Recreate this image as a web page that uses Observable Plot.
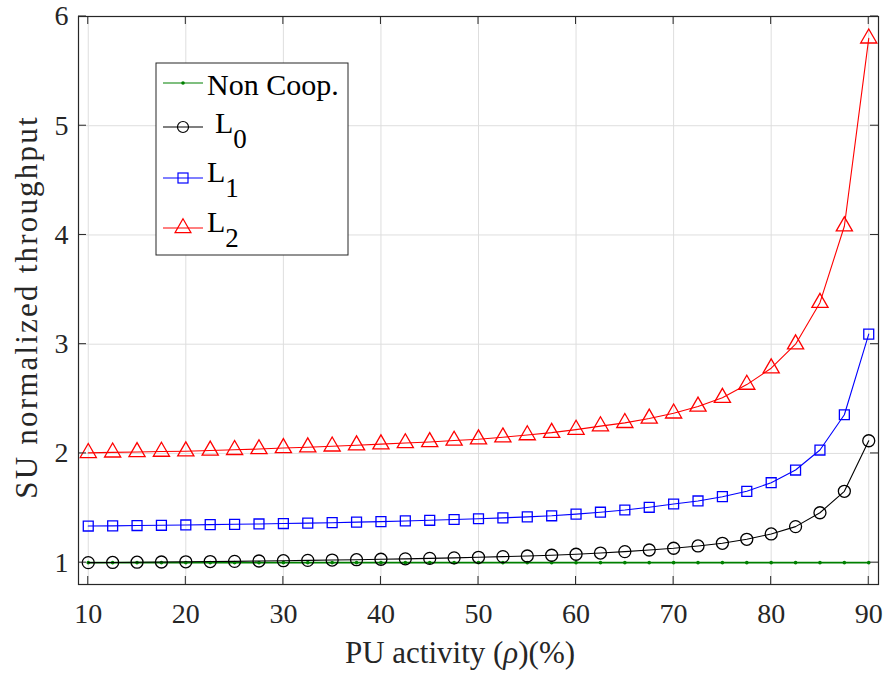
<!DOCTYPE html>
<html><head><meta charset="utf-8">
<script src="https://cdn.jsdelivr.net/npm/d3@7"></script>
<script src="https://cdn.jsdelivr.net/npm/@observablehq/plot@0.6"></script>
<style>body{margin:0;background:#fff} #chart svg{font-family:"Liberation Serif","Times New Roman",serif}</style>
</head><body><div id="chart"></div>
<script>
const rho = [10,12.5,15,17.5,20,22.5,25,27.5,30,32.5,35,37.5,40,42.5,45,47.5,50,52.5,55,57.5,60,62.5,65,67.5,70,72.5,75,77.5,80,82.5,85,87.5,90];
const nonCoop = [1,1,1,1,1,1,1,1,1,1,1,1,1,1,1,1,1,1,1,1,1,1,1,1,1,1,1,1,1,1,1,1,1];
const L0 = [1.0,1.002,1.004,1.006,1.008,1.010,1.012,1.015,1.018,1.021,1.024,1.027,1.031,1.035,1.039,1.044,1.049,1.055,1.061,1.068,1.077,1.088,1.101,1.116,1.132,1.153,1.177,1.214,1.263,1.330,1.457,1.653,2.116];
const L1 = [1.335,1.337,1.340,1.342,1.345,1.348,1.351,1.354,1.358,1.362,1.366,1.371,1.376,1.382,1.388,1.395,1.402,1.410,1.419,1.429,1.444,1.462,1.482,1.507,1.537,1.565,1.604,1.653,1.732,1.848,2.031,2.354,3.092];
const L2 = [2.005,2.01,2.013,2.017,2.02,2.027,2.033,2.04,2.05,2.057,2.065,2.075,2.085,2.095,2.105,2.118,2.13,2.148,2.168,2.19,2.218,2.25,2.28,2.32,2.367,2.43,2.51,2.63,2.78,3.0,3.38,4.08,5.80];
const xTicks = [10,20,30,40,50,60,70,80,90];
const yTicks = [1,2,3,4,5,6];
const xLabelParts = ["PU activity (", "ρ", ")(%)"];
const yLabel = "SU normalized throughput";
const legendNames = [["Non Coop.",""],["L","0"],["L","1"],["L","2"]];

const tidy = s => rho.map((x,i) => ({x, y: s[i]}));
const ink = "#262626";
const chart = Plot.plot({
  width: 886, height: 684,
  marginLeft: 78, marginRight: 8, marginTop: 16, marginBottom: 100,
  style: {fontFamily: '"Liberation Serif","Times New Roman",serif', fontSize: "28px", color: ink, background: "#fff"},
  x: {domain: [9, 91]},
  y: {domain: [0.8, 6]},
  marks: [
    Plot.gridX(xTicks, {stroke: "#dedede", strokeOpacity: 1, strokeWidth: 1}),
    Plot.gridY(yTicks, {stroke: "#dedede", strokeOpacity: 1, strokeWidth: 1}),
    Plot.line(tidy(nonCoop), {x: "x", y: "y", stroke: "#008000", strokeWidth: 1.8}),
    Plot.dot(tidy(nonCoop), {x: "x", y: "y", r: 1.8, fill: "#008000", stroke: "none"}),
    Plot.line(tidy(L0), {x: "x", y: "y", stroke: "#000", strokeWidth: 1.1}),
    Plot.dot(tidy(L0), {x: "x", y: "y", r: 6, symbol: "circle", stroke: "#000", fill: "none", strokeWidth: 1.3}),
    Plot.line(tidy(L1), {x: "x", y: "y", stroke: "#0000ff", strokeWidth: 1.1}),
    Plot.dot(tidy(L1), {x: "x", y: "y", r: 5.6, symbol: "square", stroke: "#0000ff", fill: "none", strokeWidth: 1.3}),
    Plot.line(tidy(L2), {x: "x", y: "y", stroke: "#ff0000", strokeWidth: 1.1}),
    Plot.dot(tidy(L2), {x: "x", y: "y", r: 6, symbol: "triangle", stroke: "#ff0000", fill: "none", strokeWidth: 1.3}),
    Plot.frame({stroke: ink, strokeWidth: 1.2}),
    Plot.axisX(xTicks, {tickSize: 0, tickPadding: 19, label: null, fontSize: 28, tickFormat: d => String(d)}),
    Plot.axisY(yTicks, {tickSize: 0, tickPadding: 10, label: null, fontSize: 28, tickFormat: d => String(d)})
  ]
});
document.getElementById("chart").appendChild(chart);

const svg = d3.select(chart);
const sx = chart.scale("x"), sy = chart.scale("y");
const [x0, x1] = sx.range, [y0, y1] = sy.range; // y0 bottom, y1 top
const tk = 8;
const g = svg.append("g").attr("stroke", ink).attr("stroke-width", 1);
xTicks.forEach(v => {
  const px = sx.apply(v);
  g.append("line").attr("x1", px).attr("x2", px).attr("y1", y0).attr("y2", y0 - tk);
  g.append("line").attr("x1", px).attr("x2", px).attr("y1", y1).attr("y2", y1 + tk);
});
yTicks.forEach(v => {
  const py = sy.apply(v);
  g.append("line").attr("x1", x0).attr("x2", x0 + tk).attr("y1", py).attr("y2", py);
  g.append("line").attr("x1", x1).attr("x2", x1 - tk).attr("y1", py).attr("y2", py);
});

// axis labels
const xl = svg.append("text").attr("x", 460).attr("y", 663).attr("text-anchor", "middle")
  .attr("fill", ink).attr("font-size", 31);
xl.append("tspan").text(xLabelParts[0]);
xl.append("tspan").attr("font-style", "italic").text(xLabelParts[1]);
xl.append("tspan").text(xLabelParts[2]);
svg.append("text").attr("transform", "translate(37,307) rotate(-90)").attr("text-anchor", "middle")
  .attr("fill", ink).attr("font-size", 31).attr("letter-spacing", 2.2).text(yLabel);

// legend
const lg = svg.append("g").attr("text-anchor", "start");
lg.append("rect").attr("x", 156).attr("y", 63).attr("width", 192).attr("height", 192)
  .attr("fill", "#fff").attr("stroke", ink).attr("stroke-width", 1);
const rows = [83, 127, 178, 228];
const colors = ["#008000", "#000", "#0000ff", "#ff0000"];
const base = [95, 133, 182, 232];
rows.forEach((ry, i) => {
  lg.append("line").attr("x1", 163).attr("x2", 203).attr("y1", ry).attr("y2", ry)
    .attr("stroke", colors[i]).attr("stroke-width", 1.2);
  if (i === 0) lg.append("circle").attr("cx", 183).attr("cy", ry).attr("r", 1.8).attr("fill", colors[i]);
  if (i === 1) lg.append("circle").attr("cx", 183).attr("cy", ry).attr("r", 5.5).attr("fill", "none").attr("stroke", colors[i]).attr("stroke-width", 1.2);
  if (i === 2) lg.append("rect").attr("x", 178).attr("y", ry - 5).attr("width", 10).attr("height", 10).attr("fill", "none").attr("stroke", colors[i]).attr("stroke-width", 1.2);
  if (i === 3) lg.append("path").attr("d", d3.symbol(d3.symbolTriangle, 110)()).attr("transform", `translate(183,${ry})`).attr("fill", "none").attr("stroke", colors[i]).attr("stroke-width", 1.2);
  const t = lg.append("text").attr("x", i === 1 ? 215 : 207).attr("y", base[i]).attr("fill", "#000").attr("font-size", 30).attr("text-anchor", "start");
  t.append("tspan").text(legendNames[i][0]);
  if (legendNames[i][1]) t.append("tspan").attr("dy", 15).attr("font-size", 27).text(legendNames[i][1]);
});
</script>
</body></html>
